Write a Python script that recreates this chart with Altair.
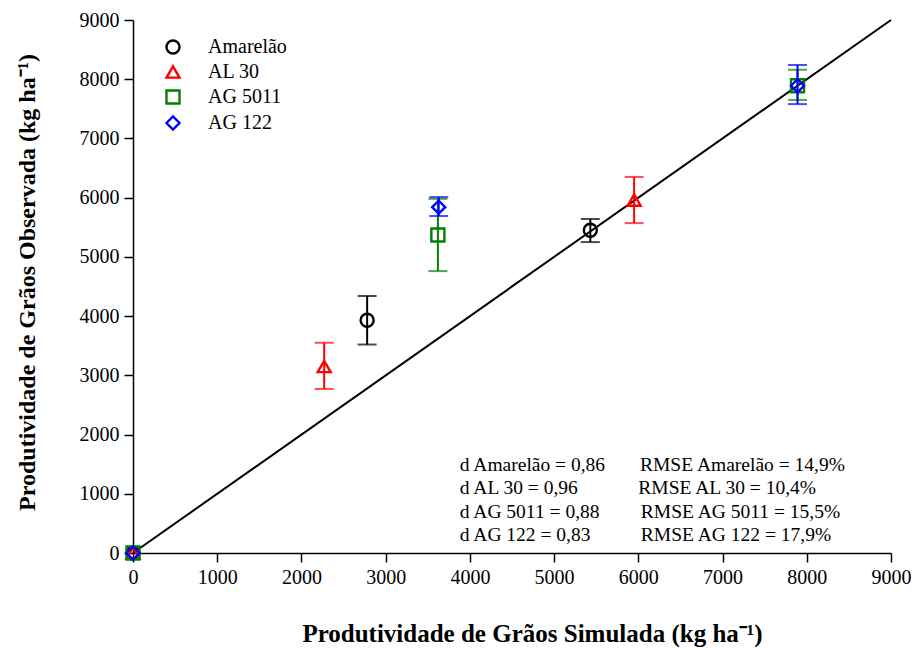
import altair as alt
import pandas as pd

series = ["Amarelão", "AL 30", "AG 5011", "AG 122"]
colors = ["#000000", "#ff0000", "#008000", "#0000ff"]
shapes = ["circle", "triangle-up", "square", "diamond"]

sim_amarelao = [0, 2780, 5430]
obs_amarelao = [0, 3930, 5450]
lo_amarelao = [0, 3520, 5250]
hi_amarelao = [0, 4340, 5640]

sim_al30 = [0, 2270, 5950]
obs_al30 = [0, 3150, 5960]
lo_al30 = [0, 2770, 5570]
hi_al30 = [0, 3550, 6350]

sim_ag5011 = [0, 3620, 7890]
obs_ag5011 = [0, 5370, 7890]
lo_ag5011 = [0, 4760, 7650]
hi_ag5011 = [0, 5980, 8160]

sim_ag122 = [0, 3630, 7890]
obs_ag122 = [0, 5840, 7890]
lo_ag122 = [0, 5690, 7580]
hi_ag122 = [0, 6010, 8240]

ticks = [0, 1000, 2000, 3000, 4000, 5000, 6000, 7000, 8000, 9000]

stats_d = ["d Amarelão = 0,86", "d AL 30 = 0,96", "d AG 5011 = 0,88", "d AG 122 = 0,83"]
stats_rmse = ["RMSE Amarelão = 14,9%", "RMSE AL 30 = 10,4%", "RMSE AG 5011 = 15,5%", "RMSE AG 122 = 17,9%"]
stats_y = [1490, 1090, 690, 310]
stats_x_d = 3880
stats_x_rmse = [6020, 6000, 6030, 6030]

rows = []
for name, sx, ob, lo, hi in [
    ("Amarelão", sim_amarelao, obs_amarelao, lo_amarelao, hi_amarelao),
    ("AL 30", sim_al30, obs_al30, lo_al30, hi_al30),
    ("AG 5011", sim_ag5011, obs_ag5011, lo_ag5011, hi_ag5011),
    ("AG 122", sim_ag122, obs_ag122, lo_ag122, hi_ag122),
]:
    for a, b, c, d in zip(sx, ob, lo, hi):
        rows.append({"serie": name, "sim": a, "obs": b, "lo": c, "hi": d})
df = pd.DataFrame(rows)
df_err = df[df["sim"] > 0]

line_df = pd.DataFrame({"sim": [0, 9000], "obs": [0, 9000]})
txt_df = pd.DataFrame({
    "d": stats_d, "rmse": stats_rmse, "y": stats_y,
    "xd": [stats_x_d] * 4, "xr": stats_x_rmse,
})

FONT = "Liberation Serif"
xscale = alt.Scale(domain=[0, 9000], nice=False, zero=False)
yscale = alt.Scale(domain=[0, 9000], nice=False, zero=False)
cscale = alt.Scale(domain=series, range=colors)
sscale = alt.Scale(domain=series, range=shapes)

axis_common = dict(values=ticks, format="d", labelFont=FONT, labelFontSize=20, labelColor="black",
                   titleFont=FONT, titleFontWeight="bold", titleColor="black", labelFlush=False,
                   labelOverlap=False,
                   grid=False, domainColor="black", domainWidth=1.5, tickColor="black",
                   tickWidth=1.5, tickSize=9, labelPadding=5, labelFontWeight="normal")
xaxis = alt.Axis(title="Produtividade de Grãos Simulada (kg ha⁻¹)", titleFontSize=25,
                 titleX=399, titleY=80, titleBaseline="middle", titleAlign="center", **axis_common)
yaxis = alt.Axis(title="Produtividade de Grãos Observada (kg ha⁻¹)", titleFontSize=24,
                 titleX=-106, titleY=262, titleBaseline="middle", titleAlign="center", titleAngle=-90,
                 **axis_common)

line = alt.Chart(line_df).mark_line(color="black", strokeWidth=2).encode(
    x=alt.X("sim:Q", scale=xscale, axis=xaxis),
    y=alt.Y("obs:Q", scale=yscale, axis=yaxis),
)

leg = alt.Legend(
    title=None, orient="none", legendX=30, legendY=17,
    labelFont=FONT, labelFontSize=20, labelColor="black",
    symbolSize=170, symbolStrokeWidth=2.4, rowPadding=2, labelOffset=25)

layers = [line]
for name in series:
    d_err = df_err[df_err["serie"] == name]
    d_pts = df[df["serie"] == name]
    col = colors[series.index(name)]
    rule = alt.Chart(d_err).mark_rule(color=col, strokeWidth=2).encode(
        x=alt.X("sim:Q", axis=xaxis), y=alt.Y("lo:Q", axis=yaxis), y2="hi:Q")
    cap_lo = alt.Chart(d_err).mark_tick(color=col, orient="horizontal", size=19, thickness=2).encode(
        x=alt.X("sim:Q", axis=xaxis), y=alt.Y("lo:Q", axis=yaxis))
    cap_hi = alt.Chart(d_err).mark_tick(color=col, orient="horizontal", size=19, thickness=2).encode(
        x=alt.X("sim:Q", axis=xaxis), y=alt.Y("hi:Q", axis=yaxis))
    pts = alt.Chart(d_pts).mark_point(filled=False, strokeWidth=2.4, size=170, opacity=1).encode(
        x=alt.X("sim:Q", axis=xaxis), y=alt.Y("obs:Q", axis=yaxis),
        color=alt.Color("serie:N", scale=cscale, legend=leg),
        shape=alt.Shape("serie:N", scale=sscale, legend=leg),
    )
    layers += [rule, cap_lo, cap_hi, pts]

t1 = alt.Chart(txt_df).mark_text(align="left", baseline="middle", font=FONT, fontSize=19.5, color="black").encode(
    x=alt.X("xd:Q", axis=xaxis), y=alt.Y("y:Q", axis=yaxis), text="d:N")
t2 = alt.Chart(txt_df).mark_text(align="left", baseline="middle", font=FONT, fontSize=19.5, color="black").encode(
    x=alt.X("xr:Q", axis=xaxis), y=alt.Y("y:Q", axis=yaxis), text="rmse:N")
layers += [t1, t2]

chart = alt.layer(*layers).properties(
    width=758, height=533,
    autosize=alt.AutoSizeParams(type="none"),
    padding={"left": 133, "top": 20, "right": 26, "bottom": 95},
    background="white",
).configure(font=FONT, style={"guide-label": {"font": FONT}}).configure_view(
    stroke=None
).resolve_scale(color="shared", shape="shared")

chart.save("out.html", embed_options={"renderer": "svg", "actions": False})
